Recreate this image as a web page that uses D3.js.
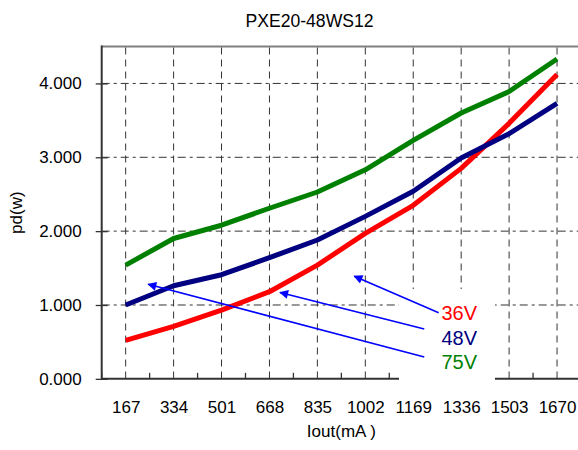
<!DOCTYPE html>
<html><head><meta charset="utf-8">
<script src="https://cdn.jsdelivr.net/npm/d3@7"></script>
<style>body{margin:0;background:#fff;}svg{display:block;font-family:"Liberation Sans",Arial,sans-serif;}</style>
</head><body>
<svg id="c" width="578" height="450"></svg>
<script>
const categories = ["167","334","501","668","835","1002","1169","1336","1503","1670"];
const v36 = [0.52, 0.71, 0.93, 1.18, 1.54, 1.97, 2.35, 2.85, 3.46, 4.12];
const v48 = [1.00, 1.26, 1.41, 1.64, 1.88, 2.20, 2.54, 2.99, 3.32, 3.73];
const v75 = [1.54, 1.90, 2.08, 2.31, 2.53, 2.83, 3.23, 3.60, 3.89, 4.33];
const yTicks = [0, 1, 2, 3, 4];
const seriesNames = ["36V", "48V", "75V"];
// annotation arrows: [tail category-index, tail value, tip category-index, tip value]
const arrowTails = [[6.53, 0.896], [6.23, 0.675], [6.23, 0.296]];
const arrowTips  = [[4.77, 1.39], [3.22, 1.17], [0.47, 1.28]];

const colors = ["#ff0000", "#000080", "#008000"];
const svg = d3.select("#c");
const L = 101.7, R = 581, T = 46.5, B = 378.85;

const x = d3.scalePoint().domain(categories).range([L, R]).padding(0.5);
const step = x.step();
const xi = i => x(categories[0]) + i * step;
const y = d3.scaleLinear().domain([0, 4.5]).range([B, T]);

// title
svg.append("text").attr("x", 309.5).attr("y", 26.5).attr("text-anchor", "middle")
  .attr("font-size", 17.6).attr("fill", "#000").text("PXE20-48WS12");

// top border
svg.append("line").attr("x1", L).attr("x2", 578).attr("y1", T).attr("y2", T)
  .attr("stroke", "#808080").attr("stroke-width", 2);

// grid
const g = svg.append("g");
g.selectAll(".vg").data(categories).join("line")
  .attr("x1", d => x(d)).attr("x2", d => x(d)).attr("y1", T + 1).attr("y2", B)
  .attr("stroke", "#333").attr("stroke-width", 1).attr("stroke-dasharray", "7,5");
g.selectAll(".hg").data(yTicks.filter(d => d > 0)).join("line")
  .attr("x1", L).attr("x2", 578).attr("y1", d => y(d)).attr("y2", d => y(d))
  .attr("stroke", "#333").attr("stroke-width", 1).attr("stroke-dasharray", "8,4,3,4");

// x axis
const xAxis = d3.axisBottom(x).tickSize(0).tickPadding(0);
const xa = svg.append("g").attr("transform", `translate(0,${B})`).call(xAxis);
xa.select(".domain").remove();
xa.selectAll("text").attr("font-size", 17).attr("fill", "#000").attr("dy", null).attr("y", 34)
  .attr("font-family", "Liberation Sans, Arial, sans-serif");
svg.append("line").attr("x1", L).attr("x2", R).attr("y1", B).attr("y2", B)
  .attr("stroke", "#333").attr("stroke-width", 2);
// inner ticks at category boundaries
const bounds = d3.range(categories.length + 1).map(i => xi(i - 0.5));
svg.selectAll(".xt").data(bounds).join("line")
  .attr("x1", d => d).attr("x2", d => d).attr("y1", B - 6).attr("y2", B)
  .attr("stroke", "#333").attr("stroke-width", 1.3);

// y axis
const yAxis = d3.axisLeft(y).tickValues(yTicks).tickFormat(d3.format(".3f")).tickSize(6).tickPadding(14);
const ya = svg.append("g").attr("transform", `translate(${L},0)`).call(yAxis);
ya.select(".domain").remove();
ya.selectAll(".tick line").attr("x2", 6).attr("x1", -6).attr("stroke", "#333").attr("stroke-width", 1.3);
ya.selectAll("text").attr("font-size", 17).attr("fill", "#000")
  .attr("font-family", "Liberation Sans, Arial, sans-serif");
svg.append("line").attr("x1", L).attr("x2", L).attr("y1", T - 1).attr("y2", B + 1)
  .attr("stroke", "#333").attr("stroke-width", 2);

// axis titles
svg.append("text").attr("transform", `translate(21.5,${(T + B) / 2}) rotate(-90)`)
  .attr("text-anchor", "middle").attr("font-size", 17).text("pd(w)");
svg.append("text").attr("x", (L + R) / 2).attr("y", 437).attr("text-anchor", "middle")
  .attr("font-size", 17).text("Iout(mA )");

// series lines
const line = d3.line().x((d, i) => x(categories[i])).y(d => y(d));
[v36, v48, v75].forEach((s, k) => {
  svg.append("path").datum(s).attr("d", line).attr("fill", "none")
    .attr("stroke", colors[k]).attr("stroke-width", 5).attr("stroke-linejoin", "round");
});

// legend box (white) covering grid
svg.append("rect").attr("x", 399).attr("y", 289).attr("width", 96).attr("height", 95).attr("fill", "#fff");

// arrows
svg.append("defs").append("marker").attr("id", "ah").attr("viewBox", "0 0 10 10")
  .attr("refX", 9).attr("refY", 5).attr("markerWidth", 12).attr("markerHeight", 9)
  .attr("markerUnits", "userSpaceOnUse").attr("orient", "auto")
  .append("path").attr("d", "M0,0 L10,5 L0,10 z").attr("fill", "#0000ff");
arrowTails.forEach((t, k) => {
  svg.append("line").attr("x1", xi(t[0])).attr("y1", y(t[1]))
    .attr("x2", xi(arrowTips[k][0])).attr("y2", y(arrowTips[k][1]))
    .attr("stroke", "#0000ff").attr("stroke-width", 1.6).attr("marker-end", "url(#ah)");
});

// legend texts
seriesNames.forEach((n, k) => {
  svg.append("text").attr("x", 441.5).attr("y", 320 + k * 24.5).attr("font-size", 20)
    .attr("fill", colors[k]).text(n);
});
</script>
</body></html>
